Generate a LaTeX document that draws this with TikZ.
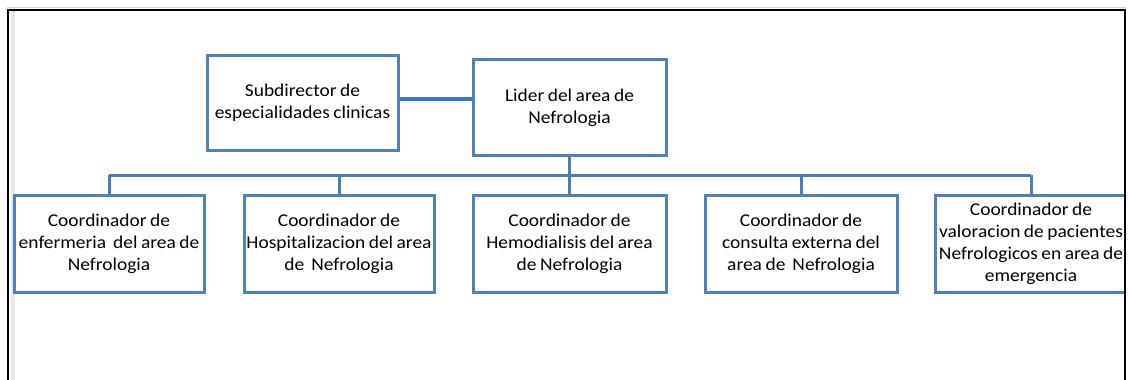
\documentclass[tikz,border=0pt]{standalone}
\usepackage{fontspec}
\setmainfont{Carlito}[FakeStretch=1.08,WordSpace=0.8]
\definecolor{boxblue}{RGB}{79,129,189}
\definecolor{linkblue}{RGB}{68,114,196}
\definecolor{conblue}{RGB}{74,126,187}
\begin{document}
\begin{tikzpicture}[x=1pt,y=-1pt,
  orgbox/.style={draw=boxblue, line width=3pt, fill=white, minimum width=192pt,
    minimum height=96pt, align=center, inner sep=0pt, text=black,
    font=\fontsize{18}{22}\selectfont},
  conn/.style={draw=conblue, line width=3pt},
  thicklink/.style={draw=linkblue, line width=4.5pt}]
\useasboundingbox (0,0) rectangle (1128,380);
\fill[gray!18] (10.5,11) rectangle (14.5,380);
\begin{scope}
\clip (0,0) rectangle (1124,380);
\node[orgbox, minimum width=191pt, minimum height=95pt] (sub) at (302.5,103) {Subdirector de\\especialidades clinicas};
\node[orgbox, minimum width=193pt] (lid) at (569.5,107.5) {Lider del area de\\Nefrologia};
\node[orgbox, minimum width=190pt, minimum height=97pt] (c1) at (109,243.5) {Coordinador de\\enfermeria~ del area de\\Nefrologia};
\node[orgbox, minimum width=190pt, minimum height=97pt] (c2) at (339,243.5) {Coordinador de\\Hospitalizacion del area\\de~ Nefrologia};
\node[orgbox, minimum width=193pt, minimum height=97pt] (c3) at (569.5,243.5) {Coordinador de\\Hemodialisis del area\\de Nefrologia};
\node[orgbox, minimum width=192pt, minimum height=97pt] (c4) at (801,243.5) {Coordinador de\\consulta externa del\\area de~ Nefrologia};
\node[orgbox, minimum width=192pt, minimum height=97pt] (c5) at (1031,243.5) {Coordinador de\\valoracion de pacientes\\Nefrologicos en area de\\emergencia};
\coordinate (bus) at (0,175);
\coordinate (hl) at (0,99);
\draw[thicklink] (sub.east |- hl) -- (lid.west |- hl);
\draw[conn] (lid.south) -- (lid.south |- bus);
\draw[conn] (c1.north |- bus) -- (c5.north |- bus);
\foreach \n in {c1,c2,c3,c4,c5} {\draw[conn] (\n.north |- bus) -- (\n.north);}
\end{scope}
\draw[gray!35, line width=1pt] (7,7.8) -- (1126,7.8);
\draw[black, line width=2pt] (8,381) -- (8,9.5) -- (1125,9.5) -- (1125,381);
\end{tikzpicture}
\end{document}
